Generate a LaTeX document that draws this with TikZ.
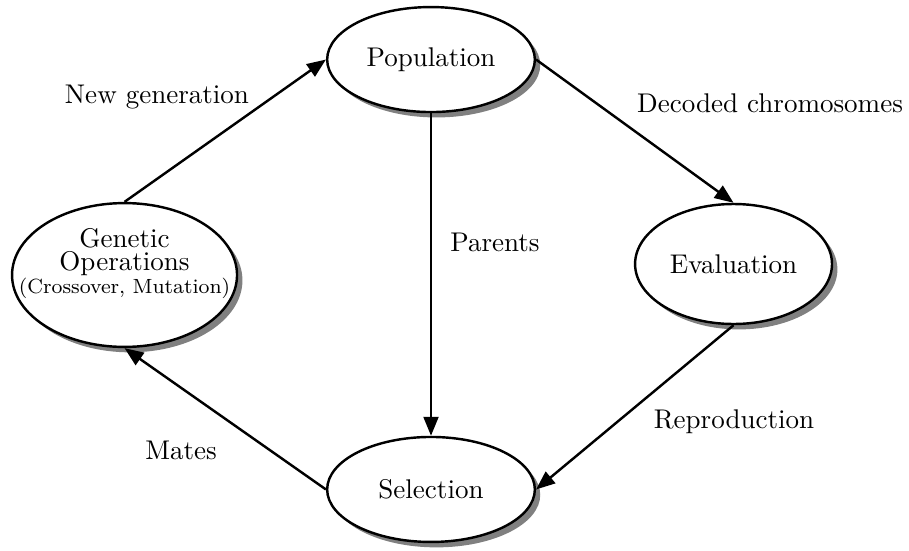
\documentclass[tikz,border=0pt]{standalone}
\usetikzlibrary{arrows.meta,positioning,shapes.geometric,shadows}

\begin{document}
\begin{tikzpicture}[
  stage/.style={ellipse, draw=black, line width=0.9pt, fill=white, inner sep=0pt,
    align=center, drop shadow={shadow xshift=2pt, shadow yshift=-2pt, fill=black!50, opacity=1}},
  flow/.style={line width=0.9pt, -{Triangle[length=7pt, width=5.5pt]}},
  flowlab/.style={font=\normalsize},
]
\useasboundingbox (0,0) rectangle (11.817,7.15);

% --- the four stages of the loop ---
\node[stage, minimum width=2.70cm, minimum height=1.365cm] (pop) at (5.603, 6.376) {Population};
\node[stage, minimum width=2.56cm, minimum height=1.56cm] (eval) at (9.536, 3.718) {Evaluation};
\node[stage, minimum width=2.70cm, minimum height=1.365cm] (sel) at (5.603, 0.787) {Selection};
\node[stage, minimum width=2.925cm, minimum height=1.87cm] (genop) at (1.619, 3.575) {};
% text sits a bit above the centre of its ellipse, lines set tight
\node[align=center, inner sep=0pt, font=\fontsize{10pt}{8.7pt}\selectfont] (genoptext)
  at ([yshift=0.15cm]genop.center)
  {Genetic\\Operations\\[-0.3pt]{\fontsize{7.6pt}{7.4pt}\selectfont(Crossover, Mutation)}};

% --- connectors ---
\draw[flow] (genop.north) -- (pop.west);
\draw[flow] (pop.east) -- (eval.north);
\draw[flow] (pop.south) -- (sel.north);
\draw[flow] (eval.south) -- (sel.east);
\draw[flow] (sel.west) -- (genop.south);

% --- connector labels ---
\node[flowlab] (lnew) at (2.041, 5.889) {New generation};
\node[flowlab] (ldec) at (10.01, 5.811) {Decoded chromosomes};
\node[flowlab] (lpar) at (6.435, 4.004) {Parents};
\node[flowlab] (lrep) at (9.542, 1.664) {Reproduction};
\node[flowlab] (lmat) at (2.353, 1.30) {Mates};

\end{tikzpicture}
\end{document}
